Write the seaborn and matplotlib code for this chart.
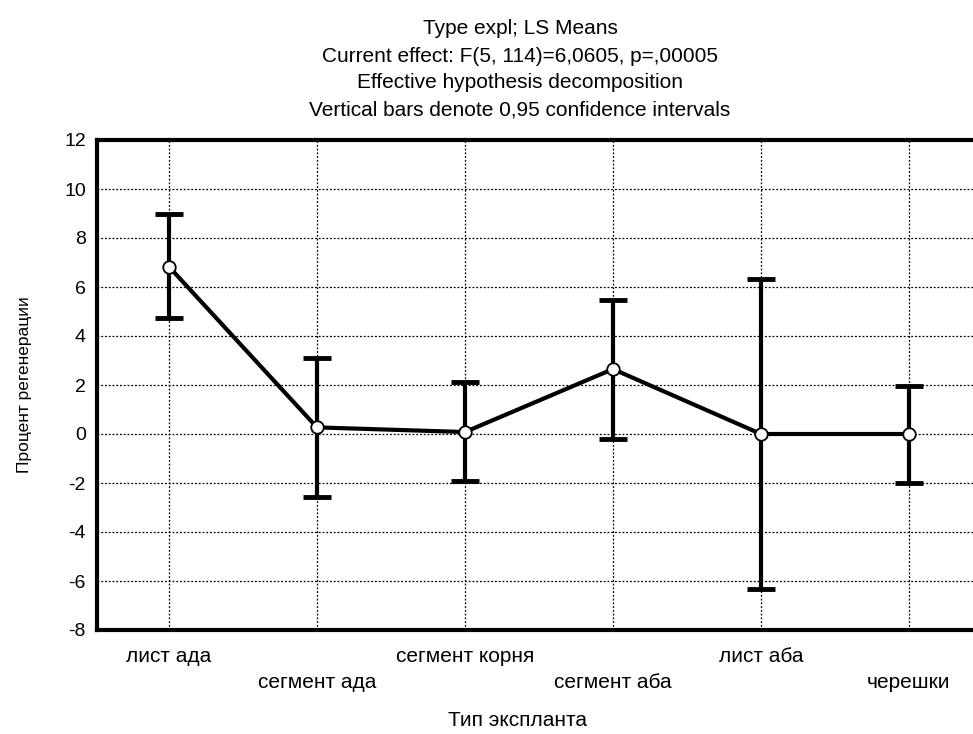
import matplotlib
matplotlib.use('Agg')
from matplotlib import pyplot as plt
import seaborn as sns

# LS means and 0.95 confidence limits
categories = ['лист ада', 'сегмент ада', 'сегмент корня', 'сегмент аба', 'лист аба', 'черешки']
means = [6.83, 0.27, 0.08, 2.65, 0.0, 0.0]
ci_low = [4.73, -2.56, -1.92, -0.19, -6.33, -1.99]
ci_high = [8.97, 3.12, 2.14, 5.47, 6.31, 1.97]
y_ticks = [-8, -6, -4, -2, 0, 2, 4, 6, 8, 10, 12]
title_lines = ['Type expl; LS Means',
               'Current effect: F(5, 114)=6,0605, p=,00005',
               'Effective hypothesis decomposition',
               'Vertical bars denote 0,95 confidence intervals']

sns.set_style('white')
plt.rcParams['font.family'] = ['Liberation Sans', 'DejaVu Sans']
plt.rcParams['text.color'] = 'black'

fig = plt.figure(figsize=(9.73, 7.34), dpi=100)
ax = fig.add_axes([97 / 973, 104 / 734, 886 / 973, 490 / 734])

# confidence interval bars
positions = list(range(len(categories)))
err_low = [m - lo for m, lo in zip(means, ci_low)]
err_high = [hi - m for m, hi in zip(means, ci_high)]
ax.errorbar(positions, means, yerr=[err_low, err_high], fmt='none',
            ecolor='black', elinewidth=3, capsize=10, capthick=3.5, zorder=3)

# mean line with open circle markers
sns.pointplot(x=categories, y=means, color='black', errorbar=None, ax=ax,
              markers='o', linewidth=3, markersize=9,
              markerfacecolor='white', markeredgecolor='black',
              markeredgewidth=1.3, zorder=4)

ax.set_xlim(-0.486, 5.5)
ax.set_ylim(-8, 12)
ax.set_yticks(y_ticks)
ax.set_yticklabels([str(v) for v in y_ticks], fontsize=14)
ax.set_xticks(positions)
ax.set_xticklabels(categories, fontsize=15)
ax.grid(True, color='black', linestyle=(0, (1.5, 1.5)), linewidth=0.9)
ax.set_axisbelow(True)
for side in ['left', 'right', 'top', 'bottom']:
    ax.spines[side].set_linewidth(3)
    ax.spines[side].set_color('black')
ax.tick_params(axis='both', direction='in', length=3, width=2.5,
               color='black', labelcolor='black')
ax.tick_params(axis='y', pad=8)
for i, tick in enumerate(ax.xaxis.get_major_ticks()):
    tick.set_pad(12 if i % 2 == 0 else 31)

ax.set_xlabel('')
ax.set_ylabel('')
fig.text(25 / 973, 1 - 385 / 734, 'Процент регенерации', rotation=90,
         ha='center', va='center', fontsize=12.5)
fig.text(517 / 973, 1 - 721 / 734, 'Тип эксплanta'.replace('anta', 'анта'),
         ha='center', va='center', fontsize=15)
for k, line in enumerate(title_lines):
    fig.text(520 / 973, 1 - (29 + 27 * k) / 734, line,
             ha='center', va='center', fontsize=15)

fig.savefig('out.png', dpi=100)
